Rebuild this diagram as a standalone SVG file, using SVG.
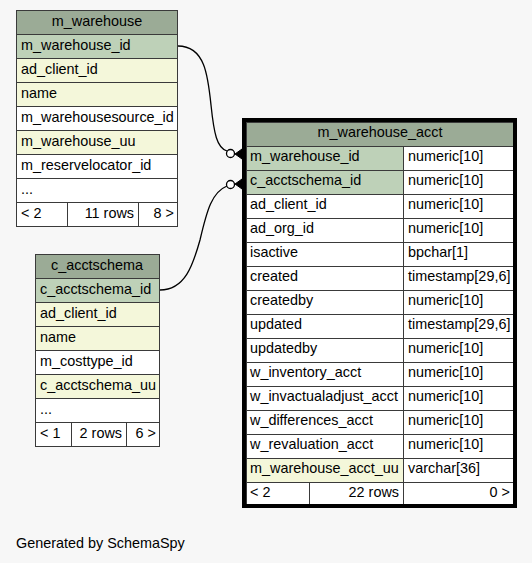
<svg xmlns="http://www.w3.org/2000/svg" width="532" height="563" viewBox="0 0 532 563">
<style>
text{font-family:"Liberation Sans",Arial,sans-serif;font-size:14.4px;fill:#000}
.c{stroke:#3a3a3a;stroke-width:1}
.h{fill:#9bab96}
.p{fill:#bed1b8}
.y{fill:#f4f7da}
.w{fill:#ffffff}
.m{text-anchor:middle}
.r{text-anchor:end}
.e{fill:none;stroke:#000;stroke-width:1.3}
</style>
<rect width="532" height="563" fill="#f7f7f7"/>
<g id="connectors">
<path class="e" d="M178,46 C205,46 208,76 211,105 C214,134 217,148 227,151"/>
<circle cx="230.5" cy="153.5" r="4" fill="#fff" stroke="#000" stroke-width="1.3"/>
<path d="M235,154 L242,149 L242,159 Z" fill="#000" stroke="#000" stroke-width="1"/>
<path class="e" d="M160,290 C185,290 193,265 200,240 C207,210 212,192 227,186"/>
<circle cx="230.5" cy="184.5" r="4" fill="#fff" stroke="#000" stroke-width="1.3"/>
<path d="M235,184 L242,179 L242,189 Z" fill="#000" stroke="#000" stroke-width="1"/>
</g>
<g id="m_warehouse">
<rect x="16.5" y="10.5" width="161" height="216" fill="none" stroke="#555" stroke-width="1"/>
<rect class="c h" x="16.5" y="10.5" width="161" height="24"/>
<rect class="c p" x="16.5" y="34.5" width="161" height="24"/>
<rect class="c y" x="16.5" y="58.5" width="161" height="24"/>
<rect class="c y" x="16.5" y="82.5" width="161" height="24"/>
<rect class="c w" x="16.5" y="106.5" width="161" height="24"/>
<rect class="c y" x="16.5" y="130.5" width="161" height="24"/>
<rect class="c w" x="16.5" y="154.5" width="161" height="24"/>
<rect class="c w" x="16.5" y="178.5" width="161" height="24"/>
<rect class="c w" x="16.5" y="202.5" width="51" height="24"/>
<rect class="c w" x="67.5" y="202.5" width="71" height="24"/>
<rect class="c w" x="138.5" y="202.5" width="39" height="24"/>
<text class="m" x="97" y="26">m_warehouse</text>
<text x="21" y="50">m_warehouse_id</text>
<text x="21" y="74">ad_client_id</text>
<text x="21" y="98">name</text>
<text x="21" y="122">m_warehousesource_id</text>
<text x="21" y="146">m_warehouse_uu</text>
<text x="21" y="170">m_reservelocator_id</text>
<text x="21" y="194">...</text>
<text x="21" y="218">&lt; 2</text>
<text class="r" x="134" y="218">11 rows</text>
<text class="r" x="174" y="218">8 &gt;</text>
</g>
<g id="c_acctschema">
<rect x="35.5" y="254.5" width="124" height="192" fill="none" stroke="#555" stroke-width="1"/>
<rect class="c h" x="35.5" y="254.5" width="124" height="24"/>
<rect class="c p" x="35.5" y="278.5" width="124" height="24"/>
<rect class="c y" x="35.5" y="302.5" width="124" height="24"/>
<rect class="c y" x="35.5" y="326.5" width="124" height="24"/>
<rect class="c w" x="35.5" y="350.5" width="124" height="24"/>
<rect class="c y" x="35.5" y="374.5" width="124" height="24"/>
<rect class="c w" x="35.5" y="398.5" width="124" height="24"/>
<rect class="c w" x="35.5" y="422.5" width="36" height="24"/>
<rect class="c w" x="71.5" y="422.5" width="55" height="24"/>
<rect class="c w" x="126.5" y="422.5" width="33" height="24"/>
<text class="m" x="97" y="270">c_acctschema</text>
<text x="40" y="294">c_acctschema_id</text>
<text x="40" y="318">ad_client_id</text>
<text x="40" y="342">name</text>
<text x="40" y="366">m_costtype_id</text>
<text x="40" y="390">c_acctschema_uu</text>
<text x="40" y="414">...</text>
<text x="40" y="438">&lt; 1</text>
<text class="r" x="122" y="438">2 rows</text>
<text class="r" x="156" y="438">6 &gt;</text>
</g>
<g id="m_warehouse_acct">
<rect class="c h" x="246.5" y="122.5" width="267" height="24"/>
<rect class="c p" x="246.5" y="146.5" width="157" height="24"/><rect class="c w" x="403.5" y="146.5" width="110" height="24"/>
<rect class="c p" x="246.5" y="170.5" width="157" height="24"/><rect class="c w" x="403.5" y="170.5" width="110" height="24"/>
<rect class="c w" x="246.5" y="194.5" width="157" height="24"/><rect class="c w" x="403.5" y="194.5" width="110" height="24"/>
<rect class="c w" x="246.5" y="218.5" width="157" height="24"/><rect class="c w" x="403.5" y="218.5" width="110" height="24"/>
<rect class="c w" x="246.5" y="242.5" width="157" height="24"/><rect class="c w" x="403.5" y="242.5" width="110" height="24"/>
<rect class="c w" x="246.5" y="266.5" width="157" height="24"/><rect class="c w" x="403.5" y="266.5" width="110" height="24"/>
<rect class="c w" x="246.5" y="290.5" width="157" height="24"/><rect class="c w" x="403.5" y="290.5" width="110" height="24"/>
<rect class="c w" x="246.5" y="314.5" width="157" height="24"/><rect class="c w" x="403.5" y="314.5" width="110" height="24"/>
<rect class="c w" x="246.5" y="338.5" width="157" height="24"/><rect class="c w" x="403.5" y="338.5" width="110" height="24"/>
<rect class="c w" x="246.5" y="362.5" width="157" height="24"/><rect class="c w" x="403.5" y="362.5" width="110" height="24"/>
<rect class="c w" x="246.5" y="386.5" width="157" height="24"/><rect class="c w" x="403.5" y="386.5" width="110" height="24"/>
<rect class="c w" x="246.5" y="410.5" width="157" height="24"/><rect class="c w" x="403.5" y="410.5" width="110" height="24"/>
<rect class="c w" x="246.5" y="434.5" width="157" height="24"/><rect class="c w" x="403.5" y="434.5" width="110" height="24"/>
<rect class="c y" x="246.5" y="458.5" width="157" height="24"/><rect class="c w" x="403.5" y="458.5" width="110" height="24"/>
<rect class="c w" x="246.5" y="482.5" width="63" height="22"/>
<rect class="c w" x="309.5" y="482.5" width="94" height="22"/>
<rect class="c w" x="403.5" y="482.5" width="110" height="22"/>
<rect x="244" y="120" width="271" height="386" fill="none" stroke="#000" stroke-width="4"/>
<text class="m" x="380" y="137">m_warehouse_acct</text>
<text x="250" y="161">m_warehouse_id</text><text x="408" y="161">numeric[10]</text>
<text x="250" y="185">c_acctschema_id</text><text x="408" y="185">numeric[10]</text>
<text x="250" y="209">ad_client_id</text><text x="408" y="209">numeric[10]</text>
<text x="250" y="233">ad_org_id</text><text x="408" y="233">numeric[10]</text>
<text x="250" y="257">isactive</text><text x="408" y="257">bpchar[1]</text>
<text x="250" y="281">created</text><text x="408" y="281">timestamp[29,6]</text>
<text x="250" y="305">createdby</text><text x="408" y="305">numeric[10]</text>
<text x="250" y="329">updated</text><text x="408" y="329">timestamp[29,6]</text>
<text x="250" y="353">updatedby</text><text x="408" y="353">numeric[10]</text>
<text x="250" y="377">w_inventory_acct</text><text x="408" y="377">numeric[10]</text>
<text x="250" y="401">w_invactualadjust_acct</text><text x="408" y="401">numeric[10]</text>
<text x="250" y="425">w_differences_acct</text><text x="408" y="425">numeric[10]</text>
<text x="250" y="449">w_revaluation_acct</text><text x="408" y="449">numeric[10]</text>
<text x="250" y="473">m_warehouse_acct_uu</text><text x="408" y="473">varchar[36]</text>
<text x="250" y="497">&lt; 2</text>
<text class="r" x="399" y="497">22 rows</text>
<text class="r" x="510" y="497">0 &gt;</text>
</g>
<text x="16" y="548">Generated by SchemaSpy</text>
</svg>
